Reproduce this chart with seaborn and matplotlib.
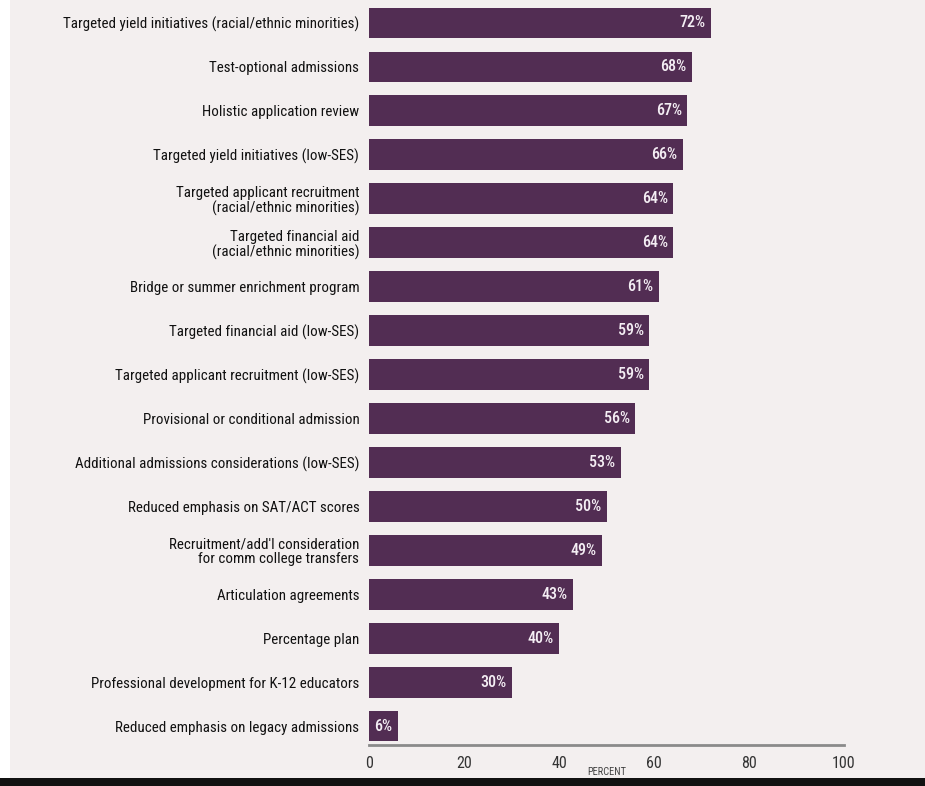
import matplotlib
matplotlib.use("Agg")
import matplotlib.pyplot as plt
import matplotlib.font_manager as fm
import seaborn as sns
import pandas as pd
from matplotlib.patches import Rectangle

categories = [
    "Targeted yield initiatives (racial/ethnic minorities)",
    "Test-optional admissions",
    "Holistic application review",
    "Targeted yield initiatives (low-SES)",
    "Targeted applicant recruitment\n(racial/ethnic minorities)",
    "Targeted financial aid\n(racial/ethnic minorities)",
    "Bridge or summer enrichment program",
    "Targeted financial aid (low-SES)",
    "Targeted applicant recruitment (low-SES)",
    "Provisional or conditional admission",
    "Additional admissions considerations (low-SES)",
    "Reduced emphasis on SAT/ACT scores",
    "Recruitment/add'l consideration\nfor comm college transfers",
    "Articulation agreements",
    "Percentage plan",
    "Professional development for K-12 educators",
    "Reduced emphasis on legacy admissions",
]
values = [72, 68, 67, 66, 64, 64, 61, 59, 59, 56, 53, 50, 49, 43, 40, 30, 6]
x_ticks = [0, 20, 40, 60, 80, 100]
x_label = "PERCENT"

BG = "#f3efef"
BAR = "#522d53"

# look for a condensed / narrow sans family if one is installed
cond_family = None
cond_stretch = "normal"
entries = fm.fontManager.ttflist
for pref in ["Roboto Condensed", "Open Sans Condensed", "Liberation Sans Narrow",
             "Noto Sans Condensed", "DejaVu Sans Condensed"]:
    if any(e.name == pref for e in entries):
        cond_family = pref
        break
if cond_family is None:
    for e in entries:
        st = e.stretch
        if isinstance(st, str) and "condensed" in st and "CJK" not in e.name \
                and "Mono" not in e.name and "Serif" not in e.name:
            cond_family = e.name
            cond_stretch = st
            break
if cond_family is None:
    for e in entries:
        if ("Condensed" in e.name or "Narrow" in e.name) and "Mono" not in e.name \
                and "Serif" not in e.name:
            cond_family = e.name
            break

if cond_family is not None:
    FONT = [cond_family, "Liberation Sans", "DejaVu Sans"]
    LBL_SIZE, VAL_SIZE, TICK_SIZE = 10.8, 11.5, 11.5
else:
    FONT = ["Liberation Sans", "DejaVu Sans"]
    cond_stretch = "normal"
    LBL_SIZE, VAL_SIZE, TICK_SIZE = 9, 9, 10

sns.set_theme(style="white")
plt.rcParams["font.family"] = FONT
plt.rcParams["font.stretch"] = cond_stretch

df = pd.DataFrame({"cat": categories, "val": values})

fig = plt.figure(figsize=(9.25, 7.86), dpi=100, facecolor=BG)
ax = fig.add_axes([369 / 925, (786 - 745) / 786, (844 - 369) / 925, 744 / 786])
ax.set_facecolor(BG)

sns.barplot(data=df, x="val", y="cat", color=BAR, saturation=1, width=0.7,
            edgecolor="none", ax=ax, orient="h")

ax.set_xlim(0, 100)
ax.set_ylim(16.43, -0.5)
ax.set_xticks(x_ticks)
ax.set_xticklabels([str(t) for t in x_ticks], fontsize=TICK_SIZE, color="#333333")
ax.tick_params(axis="x", length=0, pad=8)
ax.tick_params(axis="y", length=0, pad=7)
for lbl in ax.get_yticklabels():
    lbl.set_fontsize(LBL_SIZE)
    lbl.set_color("#111111")
    lbl.set_multialignment("right")
    lbl.set_linespacing(1.05)
ax.set_ylabel("")
ax.set_xlabel(x_label, fontsize=7.5, color="#444444", labelpad=-3)

for s in ["top", "right", "left"]:
    ax.spines[s].set_visible(False)
ax.spines["bottom"].set_color("#8a8a8a")
ax.spines["bottom"].set_linewidth(2)

for i, v in enumerate(values):
    ax.text(v - 1.1, i, f"{v}%", ha="right", va="center", color="#f4eef4",
            fontsize=VAL_SIZE, fontweight="medium")

# framing: white strip at left, black strip at bottom
fig.add_artist(Rectangle((0, 8 / 786), 10 / 925, 1, transform=fig.transFigure,
                         facecolor="white", edgecolor="none", zorder=10))
fig.add_artist(Rectangle((0, 0), 1, 8 / 786, transform=fig.transFigure,
                         facecolor="#111111", edgecolor="none", zorder=10))

fig.savefig("out.png", dpi=100, facecolor=BG)
